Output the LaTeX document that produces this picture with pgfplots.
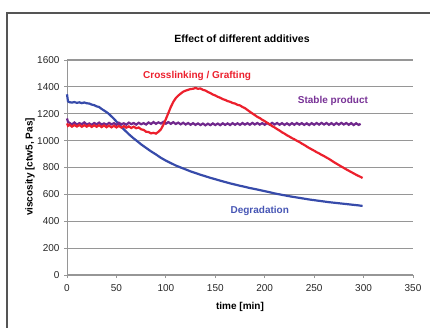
\documentclass[border=0pt]{standalone}
\usepackage{pgfplots}
\pgfplotsset{compat=1.18}
\usepackage{fontspec}
\setmainfont{Liberation Sans}
\definecolor{cred}{RGB}{236,32,45}
\definecolor{cblue}{RGB}{55,75,170}
\definecolor{cpurple}{RGB}{112,40,140}
\definecolor{tblue}{RGB}{70,85,180}
\definecolor{tpurple}{RGB}{120,50,150}
\definecolor{gridc}{RGB}{150,150,150}
\definecolor{framec}{RGB}{85,85,85}
\begin{document}
\begin{tikzpicture}[x=1pt,y=1pt]
\useasboundingbox (0,0) rectangle (430,327);
\draw[framec, line width=1.5pt] (7,-10) -- (7,314) -- (440,314);
\begin{axis}[
  at={(67pt,52pt)}, anchor=south west,
  scale only axis, width=346pt, height=215pt,
  xmin=0, xmax=350, ymin=0, ymax=1600,
  xtick={0,50,...,350}, ytick={0,200,...,1600},
  axis x line=bottom, axis y line=left,
  axis line style={gridc, line width=1pt, -},
  tick style={gridc, line width=0.8pt},
  tick align=outside, major tick length=3pt,
  ymajorgrids, grid style={gridc, line width=1.2pt},
  tick label style={font=\fontsize{10}{12}\selectfont, text=black!85},
  /pgf/number format/assume math mode=true,
  /pgf/number format/1000 sep={},
  xticklabel style={yshift=-3pt},
  yticklabel style={xshift=-1pt},
  clip=false,
]
\addplot[cblue, line width=2.2pt] coordinates {
(0,1345)(1,1292)(2.5,1286)(5,1283)(7.5,1287)(10,1281)(12.5,1285)(15,1279)(17.5,1284)(20,1278)(22.5,1276)(25,1268)(27.5,1264)(30,1255)(32.5,1250)(35,1236)(37.5,1224)(40,1212)(42.5,1198)(45,1180)(47.5,1162)(50,1142)(52.5,1122)(55,1102)(57.5,1084)(60,1066)(62.5,1048)(65,1032)(67.5,1016)(70,1002)(75,972)(80,946)(85,920)(90,897)(95,872)(100,851)(105,833)(110,815)(115,800)(120,786)(125,771)(130,759)(135,746)(140,735)(145,723)(150,713)(155,702)(160,692)(165,682)(170,673)(175,664)(180,656)(185,647)(190,640)(195,632)(200,624)(205,616)(210,607)(215,600)(220,593)(225,586)(230,580)(235,574)(240,568)(245,562)(250,557)(255,552)(260,547)(265,542)(270,538)(275,534)(280,530)(285,526)(290,522)(295,518)(299,514)
};
\addplot[cpurple, line width=2.2pt] coordinates {
(0,1165)(1,1140)(2.5,1132)(5,1120)(7.5,1135)(10,1118)(12.5,1130)(15,1122)(17.5,1136)(20,1120)(22.5,1128)(25,1117)(27.5,1131)(30,1121)(32.5,1134)(35,1119)(37.5,1128)(40,1118)(42.5,1132)(45,1121)(47.5,1130)(50,1117)(52.5,1133)(55,1122)(57.5,1129)(60,1118)(62.5,1134)(65,1123)(67.5,1131)(70,1119)(72.5,1133)(75,1122)(77.5,1130)(80,1120)(82.5,1135)(85,1124)(87.5,1138)(90,1125)(92.5,1136)(95,1127)(97.5,1140)(100,1126)(102.5,1138)(105,1125)(107.5,1137)(110,1124)(112.5,1134)(115,1121)(117.5,1133)(120,1120)(122.5,1131)(125,1118)(127.5,1130)(130,1117)(132.5,1128)(135,1116)(137.5,1127)(140,1114)(142.5,1126)(145,1115)(147.5,1128)(150,1116)(152.5,1127)(155,1115)(157.5,1129)(160,1117)(162.5,1128)(165,1116)(167.5,1130)(170,1118)(172.5,1129)(175,1117)(177.5,1131)(180,1119)(182.5,1130)(185,1118)(187.5,1132)(190,1120)(192.5,1131)(195,1119)(197.5,1130)(200,1118)(202.5,1131)(205,1119)(207.5,1132)(210,1120)(212.5,1131)(215,1118)(217.5,1130)(220,1117)(222.5,1129)(225,1116)(227.5,1130)(230,1118)(232.5,1131)(235,1119)(237.5,1130)(240,1117)(242.5,1129)(245,1116)(247.5,1130)(250,1118)(252.5,1131)(255,1119)(257.5,1132)(260,1120)(262.5,1131)(265,1118)(267.5,1130)(270,1117)(272.5,1131)(275,1119)(277.5,1132)(280,1120)(282.5,1131)(285,1118)(287.5,1130)(290,1116)(292.5,1129)(295,1117)(297,1125)
};
\addplot[cred, line width=2.2pt] coordinates {
(0,1128)(1,1110)(2.5,1118)(5,1104)(7.5,1116)(10,1105)(12.5,1117)(15,1103)(17.5,1115)(20,1104)(22.5,1116)(25,1102)(27.5,1114)(30,1103)(32.5,1115)(35,1101)(37.5,1113)(40,1100)(42.5,1112)(45,1099)(47.5,1111)(50,1098)(52.5,1110)(55,1097)(57.5,1108)(60,1096)(62.5,1106)(65,1094)(67.5,1104)(70,1092)(72.5,1098)(75,1084)(77.5,1080)(80,1066)(82.5,1064)(85,1054)(87.5,1058)(90,1052)(92.5,1066)(95,1084)(97.5,1118)(100,1160)(102.5,1205)(105,1250)(107.5,1288)(110,1316)(112.5,1335)(115,1350)(117.5,1364)(120,1372)(122.5,1378)(125,1384)(127.5,1386)(130,1392)(132.5,1386)(135,1388)(137.5,1378)(140,1373)(142.5,1362)(145,1354)(147.5,1343)(150,1336)(152.5,1326)(155,1319)(157.5,1309)(160,1303)(162.5,1294)(165,1289)(167.5,1280)(170,1276)(172.5,1266)(175,1262)(177.5,1250)(180,1242)(182.5,1228)(185,1215)(187.5,1202)(190,1190)(192.5,1177)(195,1168)(197.5,1155)(200,1145)(202.5,1132)(205,1122)(207.5,1108)(210,1098)(212.5,1086)(215,1075)(217.5,1062)(220,1052)(222.5,1040)(225,1030)(227.5,1019)(230,1010)(232.5,999)(235,990)(237.5,978)(240,968)(242.5,956)(245,945)(247.5,935)(250,925)(252.5,914)(255,905)(257.5,894)(260,885)(262.5,874)(265,864)(267.5,852)(270,840)(272.5,829)(275,818)(277.5,807)(280,797)(282.5,786)(285,776)(287.5,766)(290,756)(292.5,746)(295,737)(297.5,728)(299,722)
};
\node[text=cred, font=\fontsize{10}{12}\selectfont\bfseries] at (axis cs:131.6,1480) {Crosslinking / Grafting};
\node[text=tpurple, font=\fontsize{10}{12}\selectfont\bfseries] at (axis cs:269,1295) {Stable product};
\node[text=tblue, font=\fontsize{10}{12}\selectfont\bfseries] at (axis cs:195,476) {Degradation};
\end{axis}
\node[font=\fontsize{10.5}{12}\selectfont\bfseries] at (242,288) {Effect of different additives};
\node[font=\fontsize{10}{12}\selectfont\bfseries] at (240,20) {time [min]};
\node[font=\fontsize{10}{12}\selectfont\bfseries, rotate=90] at (30,160) {viscosity [ctw5, Pas]};
\end{tikzpicture}
\end{document}
